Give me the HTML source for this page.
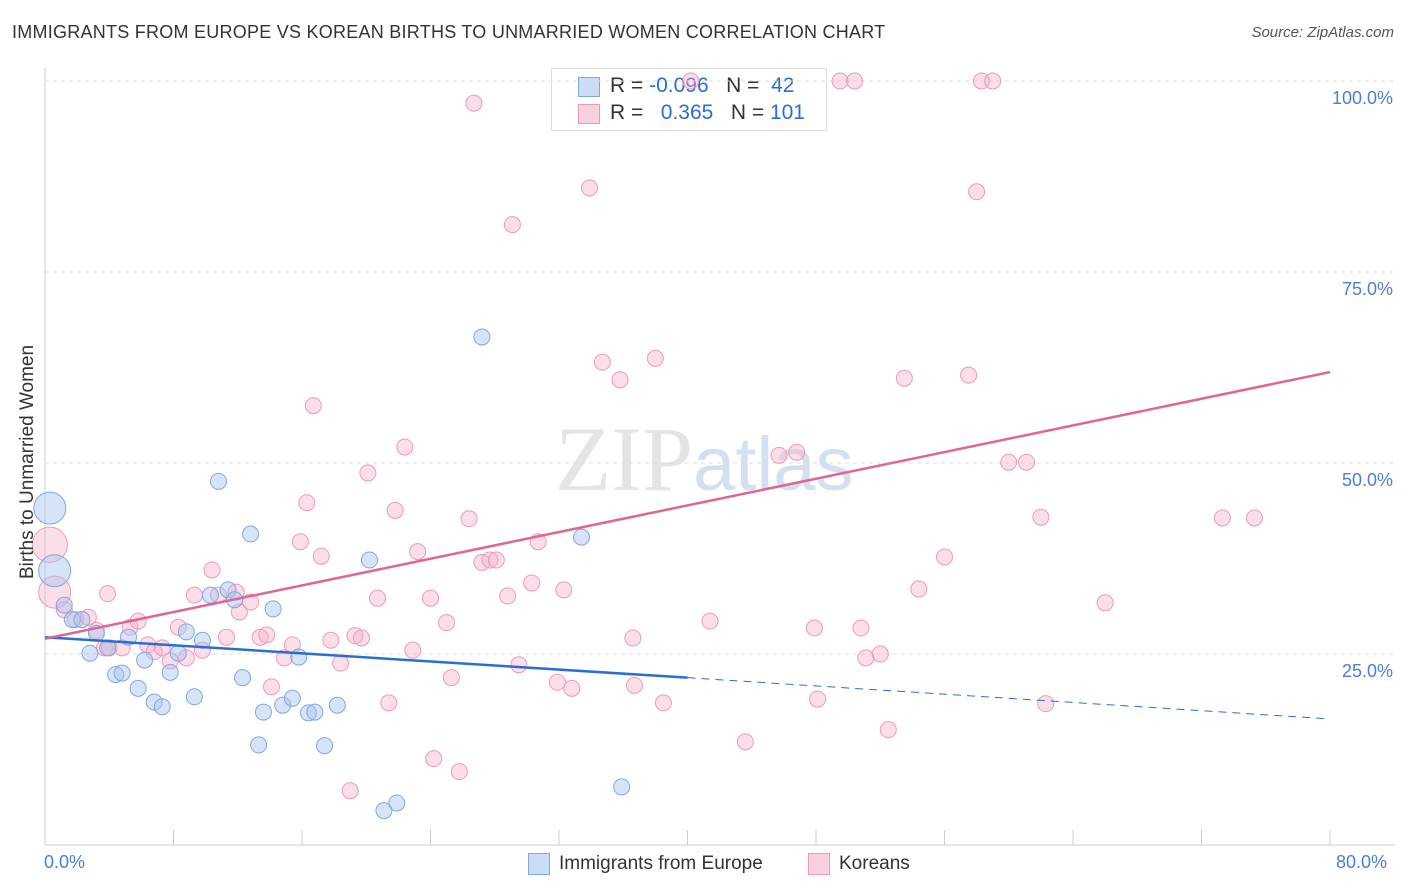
<!DOCTYPE html>
<html><head><meta charset="utf-8">
<style>
body{margin:0;background:#fff;font-family:"Liberation Sans",sans-serif;}
#wrap{position:relative;width:1406px;height:892px;overflow:hidden;}
.t{position:absolute;white-space:nowrap;}
</style></head>
<body>
<div id="wrap">
<div class="t" style="left:12px;top:22px;font-size:18px;letter-spacing:0.25px;color:#333;">IMMIGRANTS FROM EUROPE VS KOREAN BIRTHS TO UNMARRIED WOMEN CORRELATION CHART</div>
<div class="t" style="right:12px;top:24px;font-size:15px;color:#555;font-style:italic;">Source: ZipAtlas.com</div>
<div style="position:absolute;left:551px;top:68px;width:274px;height:61px;border:1px solid #ddd;background:#fff;font-size:21px;">
 <div style="position:absolute;left:26px;top:8px;width:20px;height:18px;background:rgba(166,196,240,0.6);border:1px solid #80a8e0;"></div>
 <div class="t" style="left:58px;top:5px;color:#333;">R = <span style="color:#2a6dd6">-0.096</span>&nbsp;&nbsp;&nbsp;N = &nbsp;<span style="color:#2a6dd6">42</span></div>
 <div style="position:absolute;left:26px;top:35px;width:20px;height:18px;background:rgba(246,176,200,0.6);border:1px solid #ec9ab8;"></div>
 <div class="t" style="left:58px;top:32px;color:#333;">R = &nbsp;&nbsp;<span style="color:#2a6dd6">0.365</span>&nbsp;&nbsp;&nbsp;N = <span style="color:#2a6dd6">101</span></div>
</div>
<svg id="plot" width="1406" height="892" style="position:absolute;left:0;top:0"></svg>
</div>
<script>
const blueX=[0.3,0.6,1.2,1.7,2.3,2.8,3.2,3.9,4.4,4.8,5.2,5.8,6.2,6.8,7.3,7.8,8.3,8.8,9.3,9.8,10.3,10.8,11.4,11.8,12.3,12.8,13.3,13.6,14.2,14.8,15.4,15.8,16.4,16.8,17.4,18.2,20.2,21.1,21.9,27.2,33.4,35.9];
const blueY=[44.1,35.9,31.4,29.5,29.5,25.1,27.7,25.8,22.3,22.5,27.2,20.5,24.2,18.7,18.1,22.6,25.1,27.9,19.4,26.8,32.7,47.6,33.4,32.1,21.9,40.7,13.1,17.4,30.9,18.3,19.2,24.6,17.3,17.4,13.0,18.3,37.3,4.5,5.5,66.5,40.3,7.6];
const blueSize=[2,2];
const pinkX=[0.3,0.6,1.2,1.9,2.7,3.2,3.7,4.0,4.8,5.3,5.8,3.9,6.4,6.8,7.3,7.8,8.3,8.8,9.3,9.8,10.4,10.8,11.3,11.9,12.1,12.8,13.4,13.8,14.1,14.9,15.4,15.9,16.3,16.7,17.2,17.8,18.4,19.0,19.3,19.7,20.1,20.7,21.4,21.8,22.4,22.9,23.2,24.0,24.2,25.0,25.3,25.8,26.4,26.7,27.2,27.7,28.1,28.8,29.1,29.5,30.3,30.7,31.9,32.3,32.8,33.9,34.7,35.8,36.6,36.7,38.0,38.5,40.2,41.4,43.6,45.7,46.8,47.9,48.1,49.5,50.4,50.8,51.1,52.0,52.5,53.5,54.4,56.0,57.5,58.0,58.3,59.0,60.0,61.1,62.0,62.3,66.0,73.3,75.3];
const pinkY=[39.3,33.1,30.8,29.5,29.8,28.1,25.8,25.8,25.8,28.5,29.3,32.9,26.2,25.3,25.8,24.1,28.5,24.5,32.7,25.5,36.0,32.7,27.2,33.1,30.5,31.8,27.2,27.5,20.7,24.5,26.2,39.7,44.8,57.5,37.8,26.8,23.8,7.1,27.4,27.1,48.7,32.3,18.6,43.8,52.1,25.5,38.4,32.3,11.3,29.1,21.9,9.6,42.7,97.1,37.0,37.3,37.3,32.6,81.2,23.6,34.3,39.7,21.3,33.4,20.5,86.0,63.2,60.9,27.1,20.9,63.7,18.6,100,29.3,13.5,51.0,51.4,28.4,19.1,100,100,28.4,24.5,25.0,15.1,61.1,33.5,37.7,61.5,85.5,100,100,50.1,50.1,42.9,18.5,31.7,42.8,42.8];
const pinkSize=[2.2,2];
const blueTrendX=[0,40,80];
const blueTrendY=[27.2,21.9,16.5];
const pinkTrendX=[0,80];
const pinkTrendY=[27.0,61.9];
const yTicks=[25,50,75,100];
const yTickLabels=["25.0%","50.0%","75.0%","100.0%"];
const xTicks=[0,8,16,24,32,40,48,56,64,72,80];

const NS="http://www.w3.org/2000/svg";
const svg=document.getElementById('plot');
const X=v=>45+v*(1285/80);
const Y=v=>845-v*7.64;
function mk(tag,attrs,parent){const e=document.createElementNS(NS,tag);for(const k in attrs)e.setAttribute(k,attrs[k]);(parent||svg).appendChild(e);return e;}

let wm=mk('text',{x:555,y:490,'font-size':92,'font-family':'Liberation Serif,serif',fill:'#e4e4e4'});


wm.innerHTML='ZIP<tspan font-family="Liberation Sans,sans-serif" font-size="76" fill="#d2e0f2">atlas</tspan>';

yTicks.forEach((v,i)=>{
 const g=mk('line',{x1:45,x2:1395,y1:Y(v),y2:Y(v),stroke:'#ddd','stroke-dasharray':'4,4'});
 
 
 const t=mk('text',{x:1393,y:Y(v)+23,'text-anchor':'end','font-size':18,fill:'#4a7fd4'});
 
 
 t.textContent=yTickLabels[i];
});
const ax=mk('line',{x1:45,x2:45,y1:68,y2:845,stroke:'#ccc'});


const bx=mk('line',{x1:45,x2:1395,y1:845,y2:845,stroke:'#ccc'});


xTicks.forEach(v=>{
 const l=mk('line',{x1:X(v),x2:X(v),y1:830,y2:845,stroke:'#ccc'});
 
 
});

function pts(xs,ys,sz,fill,stroke,name){
 xs.forEach((x,i)=>{
  const r=8*(sz[i]||1);
  const c=mk('circle',{cx:X(x),cy:Y(ys[i]),r:r,fill:fill,stroke:stroke,'stroke-width':1});
  
  
 });
}
pts(pinkX,pinkY,pinkSize,'rgba(246,176,200,0.42)','#ec9ab8','korean-point');
pts(blueX,blueY,blueSize,'rgba(166,196,240,0.45)','#80a8e0','europe-point');

let bl=mk('line',{x1:X(blueTrendX[0]),y1:Y(blueTrendY[0]),x2:X(blueTrendX[1]),y2:Y(blueTrendY[1]),stroke:'#2a6dd6','stroke-width':2.5});


let bd=mk('line',{x1:X(blueTrendX[1]),y1:Y(blueTrendY[1]),x2:X(blueTrendX[2]),y2:Y(blueTrendY[2]),stroke:'#2a6dd6','stroke-width':1,'stroke-dasharray':'8,6'});


let pl=mk('line',{x1:X(pinkTrendX[0]),y1:Y(pinkTrendY[0]),x2:X(pinkTrendX[1]),y2:Y(pinkTrendY[1]),stroke:'#e06595','stroke-width':2.5});


</script>
<div class="t" style="left:17px;top:579px;transform:rotate(-90deg);transform-origin:0 0;font-size:19px;color:#333;">Births to Unmarried Women</div>
<div class="t" style="left:44px;top:852px;font-size:18px;color:#4a7fd4;">0.0%</div>
<div class="t" style="left:1336px;top:852px;font-size:18px;color:#4a7fd4;">80.0%</div>
<div style="position:absolute;left:528px;top:853px;width:20px;height:20px;background:rgba(166,196,240,0.6);border:1px solid #80a8e0;"></div>
<div class="t" style="left:559px;top:853px;font-size:19px;color:#333;">Immigrants from Europe</div>
<div style="position:absolute;left:808px;top:853px;width:20px;height:20px;background:rgba(246,176,200,0.6);border:1px solid #ec9ab8;"></div>
<div class="t" style="left:839px;top:853px;font-size:19px;color:#333;">Koreans</div>
</body></html>
